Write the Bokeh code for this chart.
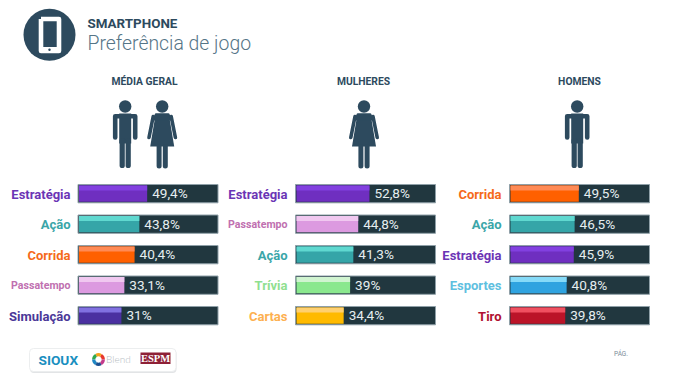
from bokeh.plotting import figure
from bokeh.models import Range1d
from bokeh.core.properties import value
from bokeh.embed import file_html
from bokeh.resources import INLINE

title_top = "SMARTPHONE"
title_main = "Preferência de jogo"
panel_names = ["MÉDIA GERAL", "MULHERES", "HOMENS"]

geral_cats = ["Estratégia", "Ação", "Corrida", "Passatempo", "Simulação"]
geral_vals = [49.4, 43.8, 40.4, 33.1, 31.0]
geral_text = ["49,4%", "43,8%", "40,4%", "33,1%", "31%"]

mulheres_cats = ["Estratégia", "Passatempo", "Ação", "Trívia", "Cartas"]
mulheres_vals = [52.8, 44.8, 41.3, 39.0, 34.4]
mulheres_text = ["52,8%", "44,8%", "41,3%", "39%", "34,4%"]

homens_cats = ["Corrida", "Ação", "Estratégia", "Esportes", "Tiro"]
homens_vals = [49.5, 46.5, 45.9, 40.8, 39.8]
homens_text = ["49,5%", "46,5%", "45,9%", "40,8%", "39,8%"]

# category: (fill, highlight, label colour, label size)
style = {
    "Estratégia": ("#6f2fc0", "#8240e0", "#6b35b5", 13),
    "Ação": ("#35a5a8", "#5fd8d0", "#3aa6a8", 13),
    "Corrida": ("#ff6000", "#ff8a55", "#f56a1a", 13),
    "Passatempo": ("#dc9ae0", "#f0c8f0", "#c070b0", 10.6),
    "Simulação": ("#4a30a0", "#8070e0", "#4a3898", 13),
    "Trívia": ("#8ae88e", "#d0f4d0", "#90e090", 13),
    "Cartas": ("#ffba00", "#ffd070", "#fdb050", 13),
    "Esportes": ("#2fa3e0", "#85daf8", "#60c0e0", 13),
    "Tiro": ("#bb1428", "#f05060", "#b01030", 13),
}

W, H = 686, 375
DARK = "#2d4a5e"
TRACK = "#21373f"
F = "Roboto"

p = figure(width=W, height=H, output_backend="svg", toolbar_location=None,
           x_range=Range1d(0, W), y_range=Range1d(H, 0),
           min_border=0, outline_line_color=None, background_fill_color="white",
           border_fill_color="white")
p.axis.visible = False
p.grid.visible = False


def txt(x, y, s, size, color, align="left", bold=False, font=F):
    p.text([x], [y], text=[s], text_font=value(font), text_font_size=f"{size}px",
           text_color=color, text_align=align, text_baseline="middle",
           text_font_style="bold" if bold else "normal")


def man(cx):
    p.circle([cx], [106], radius=6.2, fill_color=DARK, line_color=None)
    p.quad(left=[cx - 6], right=[cx + 6], top=[113], bottom=[143], fill_color=DARK, line_color=None)
    p.multi_line(xs=[[cx - 10, cx - 10, cx + 10, cx + 10], [cx - 3, cx - 3], [cx + 3, cx + 3]],
                 ys=[[137, 115.8, 115.8, 137], [140, 165], [140, 165]],
                 line_color=DARK, line_width=[4.6, 5.2, 5.2], line_cap="round", line_join="round")


def woman(cx):
    p.circle([cx], [106], radius=6.2, fill_color=DARK, line_color=None)
    p.patch([cx - 6.5, cx + 6.5, cx + 12, cx - 12], [113, 113, 146, 146], fill_color=DARK, line_color=None)
    p.patch([cx - 7, cx + 7, cx + 10.5, cx - 10.5], [113, 113, 120, 120], fill_color=DARK, line_color=None)
    p.multi_line(xs=[[cx - 9, cx - 13.2], [cx + 9, cx + 13.2], [cx - 3.1, cx - 3.1], [cx + 3.1, cx + 3.1]],
                 ys=[[116, 137], [116, 137], [146, 165.5], [146, 165.5]],
                 line_color=DARK, line_width=[3.6, 3.6, 5, 5], line_cap="round")


# header icon
p.circle([49], [34.3], radius=26, fill_color=DARK, line_color=None)
p.multi_line(xs=[[40.5, 58.5, 58.5, 40.5, 40.5]], ys=[[18.5, 18.5, 50.5, 50.5, 18.5]],
             line_color="white", line_width=4.6, line_join="round")
p.quad(left=[40], right=[59], top=[46.5], bottom=[52], fill_color="white", line_color=None)
p.circle([49], [49.3], radius=1.2, fill_color=DARK, line_color=None)

txt(87, 22.5, title_top, 13.4, DARK, bold=True)
txt(87, 43, title_main, 19.4, "#557587", font="Roboto Light")

# panels
panels = [
    (77.5, 70, 144, geral_cats, geral_vals, geral_text),
    (295, 287, 363, mulheres_cats, mulheres_vals, mulheres_text),
    (509, 501, 579, homens_cats, homens_vals, homens_text),
]
rows_top = [184, 214.5, 245, 275.5, 306]
BAR_H = 18.3
UNIT = 1.4

for (x0, lx, hx, cats, vals, texts), name in zip(panels, panel_names):
    txt(hx, 81, name, 10.3, DARK, align="center", bold=True)
    for top, c, v, t in zip(rows_top, cats, vals, texts):
        fill, hi, lab, size = style[c]
        p.quad(left=[x0], right=[x0 + 100 * UNIT], top=[top], bottom=[top + BAR_H],
               fill_color=TRACK, line_color="#8fa0a8", line_width=1)
        end = x0 + v * UNIT
        p.quad(left=[x0 + 1], right=[end], top=[top + 1], bottom=[top + BAR_H - 1],
               fill_color=fill, line_color=None)
        p.quad(left=[x0 + 1], right=[end], top=[top + 1], bottom=[top + 6],
               fill_color=hi, line_color=None)
        txt(lx, top + BAR_H / 2 + 0.5, c, size, lab, align="right", bold=True)
        txt(end + 5, top + BAR_H / 2 - 0.5, t, 13.6, "#e6eef0")

man(124.7)
woman(161.7)
woman(363.5)
man(576.7)

# logo strip
p.quad(left=[29.5], right=[176], top=[349.5], bottom=[372.5], fill_color="#e2e4e6",
       line_color=None, border_radius=4)
p.quad(left=[29], right=[175.5], top=[348], bottom=[371], fill_color="white",
       line_color="#eceeef", line_width=1, border_radius=4)
txt(38, 359.5, "SIOUX", 13.7, "#1a8fc0", bold=True)
ring = ["#e8372c", "#f5a11c", "#2fa84f", "#1f87c4", "#1b4f8f", "#c43a8c"]
for i, col in enumerate(ring):
    p.annular_wedge([98], [359], inner_radius=3.2, outer_radius=6.4,
                    start_angle=i * 1.0472, end_angle=(i + 1) * 1.0472,
                    fill_color=col, line_color=None)
txt(105.5, 358.5, "Blend", 10, "#b5bcc2", font="Lato Light")
p.quad(left=[140], right=[170], top=[352], bottom=[363.5], fill_color="#8e2036", line_color=None)
txt(155, 358, "ESPM", 10.5, "white", align="center", bold=True, font="Liberation Serif")
txt(613.5, 353, "PÁG.", 6.5, "#7a8d99")

open("out.html", "w").write(file_html(p, INLINE))
